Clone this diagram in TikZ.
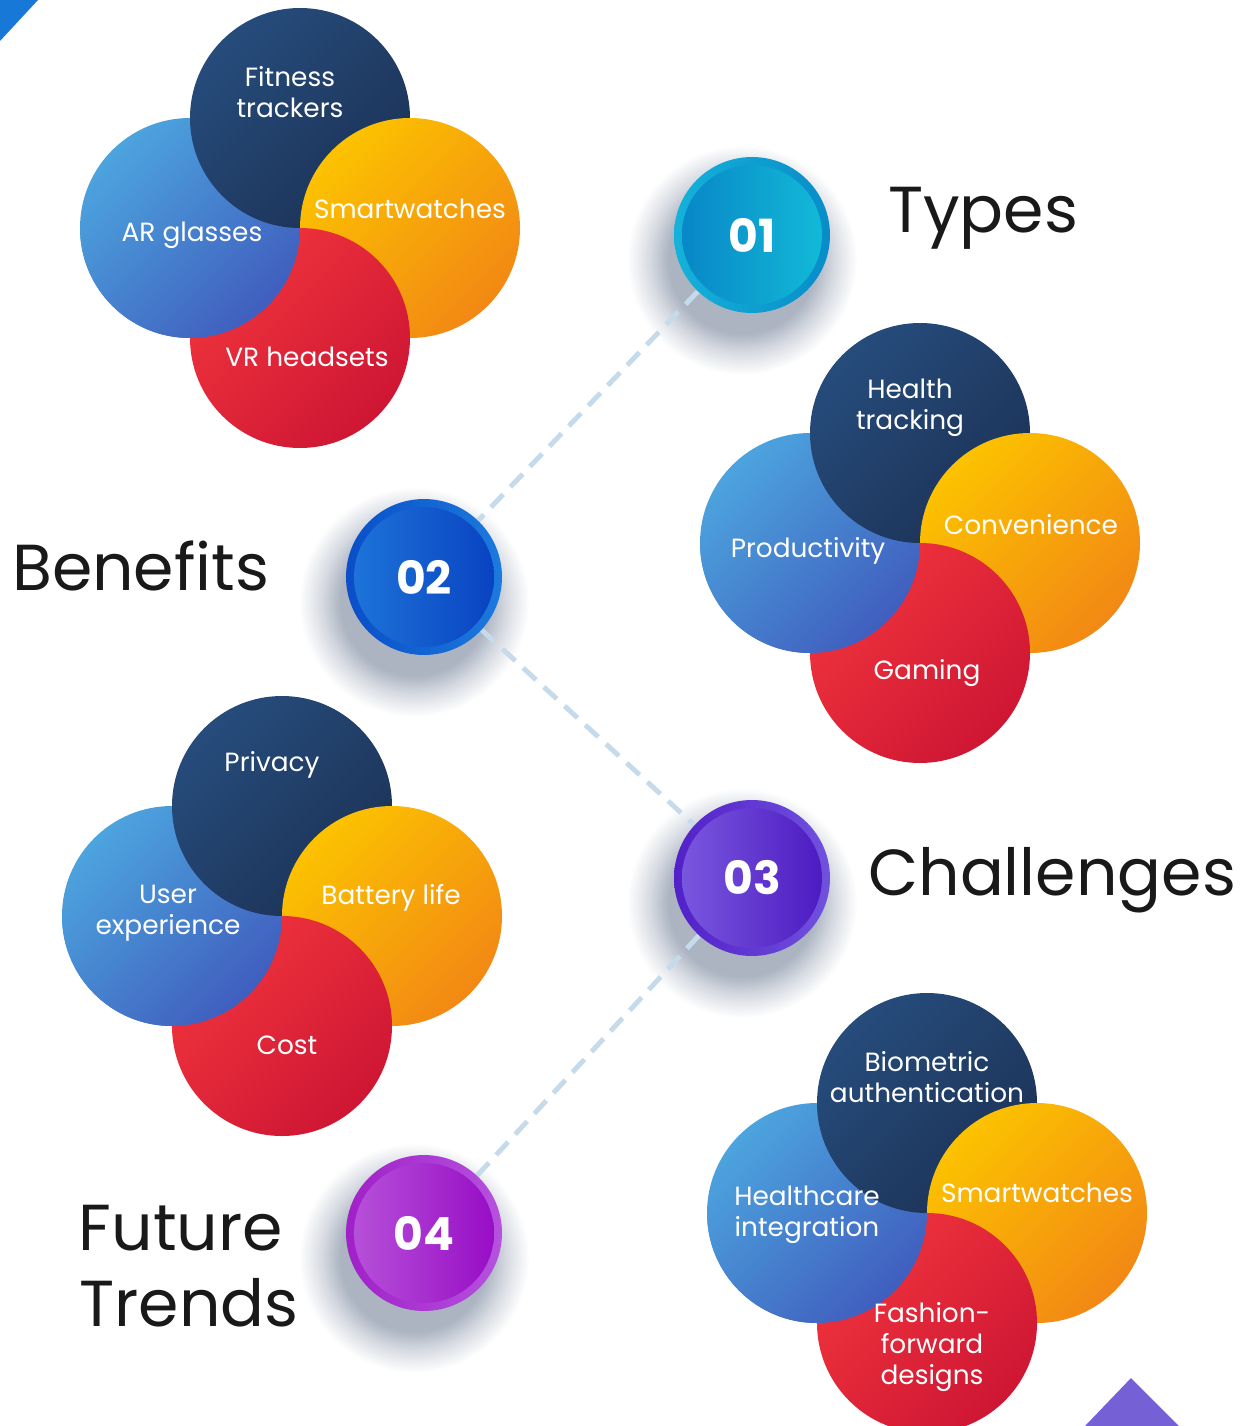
\documentclass[tikz,border=0pt]{standalone}
\usepackage{fontspec}
\setmainfont{Poppins}
\usetikzlibrary{positioning,backgrounds,calc}

\definecolor{navyA}{RGB}{38,76,124}
\definecolor{navyB}{RGB}{28,50,86}
\definecolor{blueA}{RGB}{76,164,222}
\definecolor{blueB}{RGB}{64,94,190}
\definecolor{orangeA}{RGB}{252,194,0}
\definecolor{orangeB}{RGB}{242,136,20}
\definecolor{redA}{RGB}{240,52,60}
\definecolor{redB}{RGB}{206,22,52}
\definecolor{dashblue}{RGB}{197,218,234}
\definecolor{shadowgray}{RGB}{172,180,194}
\definecolor{cornerblue}{RGB}{24,120,216}
\definecolor{cornerviolet}{RGB}{118,96,214}

\definecolor{ringOneL}{RGB}{20,178,218}
\definecolor{ringOneR}{RGB}{8,140,200}
\definecolor{inOneL}{RGB}{8,132,198}
\definecolor{inOneR}{RGB}{18,188,216}
\definecolor{ringTwoL}{RGB}{10,78,200}
\definecolor{ringTwoR}{RGB}{28,122,222}
\definecolor{inTwoL}{RGB}{30,118,218}
\definecolor{inTwoR}{RGB}{8,64,192}
\definecolor{ringThreeL}{RGB}{82,32,200}
\definecolor{ringThreeR}{RGB}{112,82,222}
\definecolor{inThreeL}{RGB}{124,90,224}
\definecolor{inThreeR}{RGB}{74,24,192}
\definecolor{ringFourL}{RGB}{160,32,200}
\definecolor{ringFourR}{RGB}{182,82,222}
\definecolor{inFourL}{RGB}{184,84,218}
\definecolor{inFourR}{RGB}{150,10,196}

\pgfdeclareradialshading{badgeshadow}{\pgfpoint{0bp}{0bp}}{%
  color(0bp)=(shadowgray); color(16bp)=(shadowgray);
  color(20bp)=(shadowgray!50); color(25bp)=(white); color(50bp)=(white)}

\tikzset{
  badge/.style n args={4}{circle, minimum size=3.12cm, inner sep=0pt,
    left color=#1, right color=#2, text=white,
    font=\fontsize{26}{30}\selectfont\bfseries,
    path picture={\shade[left color=#3, right color=#4]
      (path picture bounding box.center) circle (1.4cm);}},
  petal/.style={text=white, align=center, font=\fontsize{15}{17.5}\selectfont},
  heading/.style={text=black!90, font=\fontsize{37}{42}\selectfont},
  dashline/.style={dashblue, line width=2.8pt, dash pattern=on 10pt off 6pt},
}

\begin{document}
\begin{tikzpicture}[x=0.02cm, y=0.02cm]
	\useasboundingbox (0,0) rectangle (1250,-1426);
	
	% corner marks
	\fill[cornerblue] (0,0) -- (38,0) -- (0,-41) -- cycle;
	\fill[cornerviolet] (1085,-1426) -- (1131,-1378) -- (1179,-1426) -- cycle;
	
	% four-circle clusters
	\foreach \cx/\cy in {300/228, 920/543, 282/916, 927/1213} {
		\begin{scope}[shift={(\cx,-\cy)}]
			\shade[top color=blueA, bottom color=blueB, shading angle=45] (-110,0) circle (110);
			\shade[top color=navyA, bottom color=navyB, shading angle=45] (0,110) circle (110);
			\shade[top color=orangeA, bottom color=orangeB, shading angle=45] (110,0) circle (110);
			\shade[top color=redA, bottom color=redB, shading angle=45] (0,-110) circle (110);
			\begin{scope}
				\clip (-230,0) rectangle (0,-230);
				\shade[top color=blueA, bottom color=blueB, shading angle=45] (-110,0) circle (110);
			\end{scope}
		\end{scope}
	}
	
	% cluster labels
	\node[petal] (fitness) at (290,-92) {Fitness\\trackers};
	\node[petal] (watchesA) at (410,-209) {Smartwatches};
	\node[petal] (glasses) at (192,-235) {AR glasses};
	\node[petal] (headsets) at (307,-357) {VR headsets};
	
	\node[petal] (health) at (910,-408) {Health\\tracking};
	\node[petal] (convenience) at (1031,-525) {Convenience};
	\node[petal] (productivity) at (808,-551) {Productivity};
	\node[petal] (gaming) at (927,-673) {Gaming};
	
	\node[petal] (privacy) at (272,-765) {Privacy};
	\node[petal] (battery) at (391,-898) {Battery life};
	\node[petal] (experience) at (168,-913) {User\\experience};
	\node[petal] (cost) at (287,-1045) {Cost};
	
	\node[petal] (biometric) at (927,-1077) {Biometric\\authentication};
	\node[petal] (watchesB) at (1037,-1193) {Smartwatches};
	\node[petal] (healthcare) at (807,-1215) {Healthcare\\integration};
	\node[petal] (fashion) at (932,-1347) {Fashion-\\forward\\designs};
	
	% numbered badges
	\node[badge={ringOneL}{ringOneR}{inOneL}{inOneR}] (b01) at (752,-235) {01};
	\node[badge={ringTwoL}{ringTwoR}{inTwoL}{inTwoR}] (b02) at (424,-577) {02};
	\node[badge={ringThreeL}{ringThreeR}{inThreeL}{inThreeR}] (b03) at (752,-878) {03};
	\node[badge={ringFourL}{ringFourR}{inFourL}{inFourR}] (b04) at (424,-1233) {04};
	
	\begin{scope}[on background layer]
		\foreach \b in {b01,b02,b03,b04}
			\shade[shading=badgeshadow] ($(\b)+(-10,-25)$) circle (115);
		\draw[dashline] (b01) -- (b02) (b02) -- (b03) (b03) -- (b04);
	\end{scope}
	
	% headings
	\node[heading, anchor=base west] (types) at (882,-232) {Types};
	\node[heading, anchor=base west] (benefits) at (6,-590) {Benefits};
	\node[heading, anchor=base west] (challenges) at (862,-895) {Challenges};
	\node[heading, anchor=base] (future) at (181,-1250) {Future};
	\node[heading, anchor=base] (trends) at (189,-1326) {Trends};
\end{tikzpicture}
\end{document}
